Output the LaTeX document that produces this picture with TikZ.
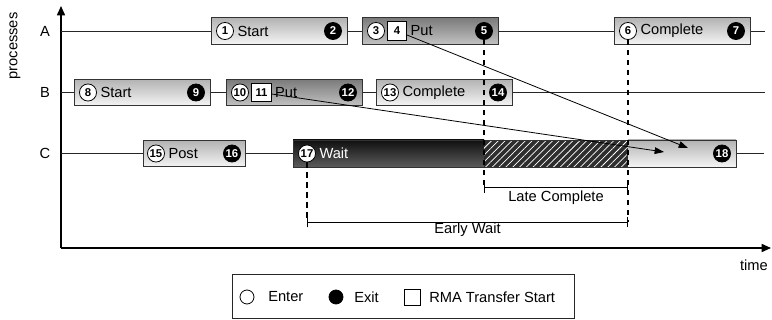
\documentclass[tikz,border=0pt]{standalone}
\usepackage{fontspec}
\setmainfont{Liberation Sans}
\usetikzlibrary{arrows.meta,patterns.meta}

\begin{document}
\begin{tikzpicture}[x=0.75pt,y=-0.75pt,
  every node/.style={font=\fontsize{11}{13}\selectfont},
  axis/.style={line width=1.2pt,-{Triangle[length=7pt,width=6pt]}},
  procline/.style={line width=0.7pt,black!85},
  evbox/.style={draw=black!80,line width=0.6pt,minimum height=20pt,minimum width=102pt,inner sep=0pt},
  lightbox/.style={evbox,top color=black!30,bottom color=black!4},
  putbox/.style={evbox,top color=black!52,bottom color=black!24},
  enter/.style={circle,draw=black,line width=0.6pt,fill=white,minimum size=12.8pt,inner sep=0pt,
                font=\fontsize{8.5}{9}\selectfont\bfseries},
  exit/.style={enter,fill=black,text=white},
  rma/.style={draw=black,line width=0.6pt,fill=white,minimum width=14.5pt,minimum height=14pt,inner sep=0pt,
              font=\fontsize{8.5}{9}\selectfont\bfseries},
  lbl/.style={anchor=west,inner sep=2.5pt},
  vmark/.style={line width=0.9pt,dash pattern=on 4pt off 3.5pt},
  span/.style={line width=0.6pt,{Bar[width=8pt]}-{Bar[width=8pt]}},
  transfer/.style={line width=0.6pt,-{Triangle[length=7pt,width=5pt]}},
  legsym/.style={circle,draw=black,line width=0.6pt,minimum size=10.5pt,inner sep=0pt},
]
\useasboundingbox (0,0) rectangle (772,320);

% axes
\coordinate (origin) at (61,248);
\coordinate (ytop) at (61,6);
\coordinate (xend) at (771,248);
\draw[axis] (origin) -- (ytop);
\draw[axis] (origin) -- (xend);
\node[rotate=90] (ylab) at (15,46) {processes};
\node (xlab) at (754,265) {time};

% process labels and time lines
\node (labA) at (45,31) {A};
\node (labB) at (45,92.5) {B};
\node (labC) at (45,153.5) {C};
\coordinate (aL) at (61,31);   \coordinate (aR) at (765,31);
\coordinate (bL) at (61,92.5); \coordinate (bR) at (765,92.5);
\coordinate (cL) at (61,153.5);\coordinate (cR) at (764,153.5);
\draw[procline] (aL) -- (aR);
\draw[procline] (bL) -- (bR);
\draw[procline] (cL) -- (cR);

% process A
\node[lightbox] (aStart) at (279,31) {};
\node[enter] (n1) at (225,31) {1};
\node[lbl] (tA1) at (n1.east) {Start};
\node[exit] (n2) at (333,31) {2};

\node[putbox] (aPut) at (430,31) {};
\node[enter] (n3) at (376,31) {3};
\node[rma] (n4) at (397,31) {4};
\node[lbl] (tA2) at (n4.east) {Put};
\node[exit] (n5) at (484,31) {5};

\node[lightbox] (aComp) at (682,31) {};
\node[enter] (n6) at (628,31) {6};
\node[lbl] (tA3) at (n6.east) {Complete};
\node[exit] (n7) at (736,31) {7};

% process B
\node[lightbox] (bStart) at (142,92.5) {};
\node[enter] (n8) at (88,92.5) {8};
\node[lbl] (tB1) at (n8.east) {Start};
\node[exit] (n9) at (196,92.5) {9};

\node[putbox] (bPut) at (294,92.5) {};
\node[enter] (n10) at (240,92.5) {10};
\node[rma] (n11) at (261.5,92.5) {11};
\node[lbl] (tB2) at (n11.east) {Put};
\node[exit] (n12) at (348,92.5) {12};

\node[lightbox] (bComp) at (444,92.5) {};
\node[enter] (n13) at (390,92.5) {13};
\node[lbl] (tB3) at (n13.east) {Complete};
\node[exit] (n14) at (498,92.5) {14};

% process C
\node[lightbox,minimum width=76.5pt] (cPost) at (194,153.5) {};
\node[enter] (n15) at (156,153.5) {15};
\node[lbl] (tC1) at (n15.east) {Post};
\node[exit] (n16) at (232,153.5) {16};

% wait: active part, late-complete part, completion part
\shade[top color=black!94,bottom color=black!64] (293,140) rectangle (484,167);
\fill[black!82] (484,140) rectangle (628,167);
\fill[pattern={Lines[angle=45,distance=3.6pt,line width=0.55pt]},pattern color=white] (484,140) rectangle (628,167);
\shade[top color=black!30,bottom color=black!4] (628,140) rectangle (736,167);
\node[draw=black!80,line width=0.6pt,minimum width=332.25pt,minimum height=20.25pt,inner sep=0pt] (cWait) at (514.5,153.5) {};
\node[enter] (n17) at (307,153.5) {17};
\node[lbl,text=white] (tC2) at (n17.east) {Wait};
\node[exit] (n18) at (722,153.5) {18};

% intervals
\coordinate (lcL) at (484,187.5); \coordinate (lcR) at (628,187.5);
\coordinate (ewL) at (307,222);   \coordinate (ewR) at (628,222);
\draw[vmark] (n5.south) -- (lcL);
\draw[vmark] (n6.south) -- (ewR);
\draw[vmark] (n17.south) -- (ewL);
\draw[span] (lcL) -- (lcR);
\draw[span] (ewL) -- (ewR);
\node (lcText) at (556,197.5) {Late Complete};
\node (ewText) at (467.5,230) {Early Wait};

% RMA transfers
\coordinate (tipA) at (688,148);
\coordinate (tipB) at (664,152);
\draw[transfer] (n4) -- (tipA);
\draw[transfer] (n11) -- (tipB);

% legend
\node[draw=black!85,line width=0.6pt,minimum width=256.5pt,minimum height=33pt,inner sep=0pt] (legend) at (403,296) {};
\node[legsym,fill=white] (legEnter) at (247,297) {};
\node[anchor=west,inner sep=0pt] (legEnterT) at (268,297) {Enter};
\node[legsym,fill=black] (legExit) at (336,297) {};
\node[anchor=west,inner sep=0pt] (legExitT) at (354,297) {Exit};
\node[draw=black,line width=0.6pt,fill=white,minimum size=12pt,inner sep=0pt] (legRma) at (412,297) {};
\node[anchor=west,inner sep=0pt] (legRmaT) at (429,297) {RMA Transfer Start};
\end{tikzpicture}
\end{document}
